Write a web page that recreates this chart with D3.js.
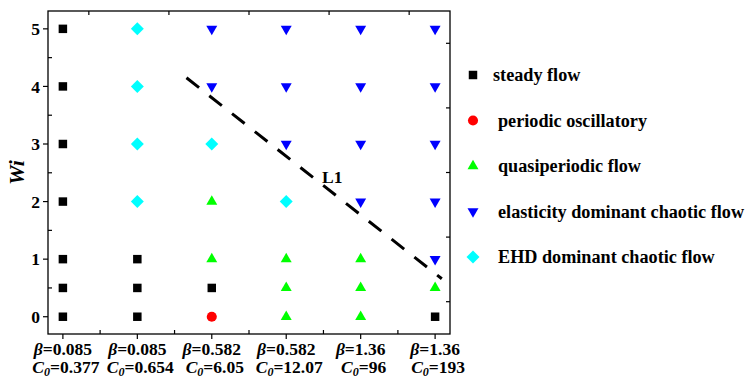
<!DOCTYPE html>
<html>
<head>
<meta charset="utf-8">
<script src="https://cdn.jsdelivr.net/npm/d3@7"></script>
<style>
  body { margin: 0; background: #fff; }
</style>
</head>
<body>
<div class="chart-container"></div>
<script>
// categories along x: beta and C0 pairs
const betas = ["0.085", "0.085", "0.582", "0.582", "1.36", "1.36"];
const c0s = ["0.377", "0.654", "6.05", "12.07", "96", "193"];
const wiTicks = [0, 1, 2, 3, 4, 5];

// [category index, Wi]
const steady = [[0,0],[0,0.5],[0,1],[0,2],[0,3],[0,4],[0,5],[1,0],[1,0.5],[1,1],[2,0.5],[5,0]];
const periodic = [[2,0]];
const quasi = [[2,1],[2,2],[3,0],[3,0.5],[3,1],[4,0],[4,0.5],[4,1],[5,0.5]];
const elastic = [[2,4],[2,5],[3,3],[3,4],[3,5],[4,2],[4,3],[4,4],[4,5],[5,1],[5,2],[5,3],[5,4],[5,5]];
const ehd = [[1,2],[1,3],[1,4],[1,5],[2,3],[3,2]];

// dashed boundary L1 (data coords)
const lineL1 = [[1.66, 4.15], [5.09, 0.66]];

const series = [
  {name: "steady flow", data: steady, color: "#000000", shape: "square"},
  {name: "periodic oscillatory", data: periodic, color: "#ff0000", shape: "circle"},
  {name: "quasiperiodic flow", data: quasi, color: "#00ff00", shape: "up"},
  {name: "elasticity dominant chaotic flow", data: elastic, color: "#0000ff", shape: "down"},
  {name: "EHD dominant chaotic flow", data: ehd, color: "#00ffff", shape: "diamond"}
];

const W = 745, H = 380;
const pL = 48, pR = 450, pT = 11, pB = 334;
const FONT = "'Liberation Serif', 'DejaVu Serif', serif";

const x = d3.scaleLinear().domain([-0.2, 5.2]).range([pL, pR]);
const y = d3.scaleLinear().domain([-0.3, 5.31]).range([pB, pT]);
// mirrored axes from the linked layer
const xTop = d3.scaleLinear().domain([-0.51, 4.51]).range([pL, pR]);
const yRight = d3.scaleLinear().domain([-0.5, 4.5]).range([pB, pT]);

const svg = d3.select(".chart-container").append("svg")
    .attr("width", W)
    .attr("height", H)
    .attr("font-family", FONT)
    .attr("font-weight", "bold");

function markerPath(shape) {
  if (shape === "square") return d3.symbol(d3.symbolSquare, 72)();
  if (shape === "circle") return d3.symbol(d3.symbolCircle, 80)();
  if (shape === "up" || shape === "down") return d3.symbol(d3.symbolTriangle, 52)();
  return d3.symbol(d3.symbolSquare, 84)();
}
function markerRot(shape) {
  if (shape === "down") return 180;
  if (shape === "diamond") return 45;
  return 0;
}

// frame
svg.append("rect")
  .attr("x", pL).attr("y", pT)
  .attr("width", pR - pL).attr("height", pB - pT)
  .attr("fill", "none").attr("stroke", "#000").attr("stroke-width", 1.3);

// bottom axis: major ticks out, minor ticks in
const gx = svg.append("g");
gx.selectAll("line.major").data(d3.range(6)).enter().append("line")
  .attr("x1", (d) => x(d)).attr("x2", (d) => x(d))
  .attr("y1", pB).attr("y2", pB + 5)
  .attr("stroke", "#000").attr("stroke-width", 1.2);
gx.selectAll("line.minor").data(d3.range(0.5, 5, 1)).enter().append("line")
  .attr("x1", (d) => x(d)).attr("x2", (d) => x(d))
  .attr("y1", pB).attr("y2", pB - 4)
  .attr("stroke", "#000").attr("stroke-width", 1.2);

const lab = gx.selectAll("g.lab").data(d3.range(6)).enter().append("g")
  .attr("transform", (d) => "translate(" + x(d) + ",0)");
const t1 = lab.append("text").attr("y", 355).attr("text-anchor", "middle").attr("font-size", 17.5);
t1.append("tspan").attr("font-style", "italic").text("β");
t1.append("tspan").text((d) => "=" + betas[d]);
const t2 = lab.append("text").attr("x", 3).attr("y", 373).attr("text-anchor", "middle").attr("font-size", 17.5);
t2.append("tspan").attr("font-style", "italic").text("C");
t2.append("tspan").attr("font-style", "italic").attr("font-size", 12).attr("dy", 3).text("0");
t2.append("tspan").attr("dy", -3).text((d) => "=" + c0s[d]);

// left axis
const gy = svg.append("g");
gy.selectAll("line.major").data(wiTicks).enter().append("line")
  .attr("x1", pL - 5).attr("x2", pL)
  .attr("y1", (d) => y(d)).attr("y2", (d) => y(d))
  .attr("stroke", "#000").attr("stroke-width", 1.2);
gy.selectAll("line.minor").data(d3.range(0.5, 5, 1)).enter().append("line")
  .attr("x1", pL).attr("x2", pL + 4)
  .attr("y1", (d) => y(d)).attr("y2", (d) => y(d))
  .attr("stroke", "#000").attr("stroke-width", 1.2);
gy.selectAll("text").data(wiTicks).enter().append("text")
  .attr("x", pL - 8).attr("y", (d) => y(d))
  .attr("dy", "0.35em").attr("text-anchor", "end")
  .attr("font-size", 17.5)
  .text((d) => d);

svg.append("text")
  .attr("transform", "translate(24," + ((pT + pB) / 2) + ") rotate(-90)")
  .attr("text-anchor", "middle")
  .attr("font-size", 22).attr("font-style", "italic")
  .text("Wi");

// top and right mirror ticks (inward)
svg.append("g").selectAll("line").data(d3.range(5)).enter().append("line")
  .attr("x1", (d) => xTop(d)).attr("x2", (d) => xTop(d))
  .attr("y1", pT).attr("y2", pT + 4)
  .attr("stroke", "#000").attr("stroke-width", 1.2);
svg.append("g").selectAll("line").data(d3.range(5)).enter().append("line")
  .attr("x1", pR - 4).attr("x2", pR)
  .attr("y1", (d) => yRight(d)).attr("y2", (d) => yRight(d))
  .attr("stroke", "#000").attr("stroke-width", 1.2);

// L1 dashed line
svg.append("path")
  .datum(lineL1)
  .attr("d", d3.line().x((d) => x(d[0])).y((d) => y(d[1])))
  .attr("fill", "none").attr("stroke", "#000")
  .attr("stroke-width", 3).attr("stroke-dasharray", "16,13");
svg.append("text")
  .attr("x", x(3.48)).attr("y", y(2.32))
  .attr("font-size", 17.5)
  .text("L1");

// markers
series.forEach((s) => {
  svg.append("g").selectAll("path").data(s.data).enter().append("path")
    .attr("d", markerPath(s.shape))
    .attr("transform", (d) => "translate(" + x(d[0]) + "," + y(d[1]) + ") rotate(" + markerRot(s.shape) + ")")
    .attr("fill", s.color);
});

// legend
const legend = svg.append("g").selectAll("g").data(series).enter().append("g")
  .attr("transform", (d, i) => "translate(473," + (75 + i * 45.5) + ")");
legend.append("path")
  .attr("d", (d) => markerPath(d.shape))
  .attr("transform", (d) => "rotate(" + markerRot(d.shape) + ")")
  .attr("fill", (d) => d.color);
legend.append("text")
  .attr("x", (d, i) => i === 0 ? 20 : 25)
  .attr("dy", "0.35em")
  .attr("font-size", 18.2)
  .text((d) => d.name);
</script>
</body>
</html>
